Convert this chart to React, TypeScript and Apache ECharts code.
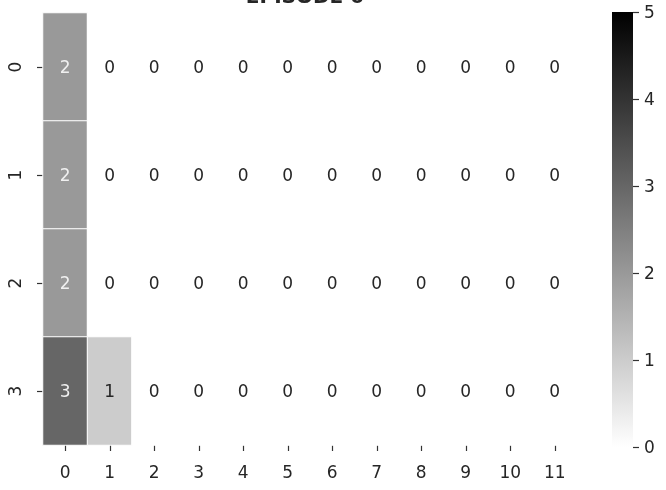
import React, { useEffect, useRef } from "react";
import * as echarts from "echarts";

const xLabels = ["0", "1", "2", "3", "4", "5", "6", "7", "8", "9", "10", "11"];
const yLabels = ["0", "1", "2", "3"];
const row0 = [2, 0, 0, 0, 0, 0, 0, 0, 0, 0, 0, 0];
const row1 = [2, 0, 0, 0, 0, 0, 0, 0, 0, 0, 0, 0];
const row2 = [2, 0, 0, 0, 0, 0, 0, 0, 0, 0, 0, 0];
const row3 = [3, 1, 0, 0, 0, 0, 0, 0, 0, 0, 0, 0];
const rows = [row0, row1, row2, row3];
const vMin = 0;
const vMax = 5;
const titleText = "EPISODE 0";

const FONT = "DejaVu Sans";
const TXT = "#262626";
const FS = 17;

export default function App() {
  const ref = useRef<HTMLDivElement>(null);
  useEffect(() => {
    if (!ref.current) return;
    const chart = echarts.init(ref.current, null, { renderer: "svg" });
    const data: any[] = [];
    rows.forEach((r, yi) => r.forEach((v, xi) => data.push([xi, yi, v])));
    chart.setOption({
      animation: false,
      textStyle: { fontFamily: FONT },
      graphic: [
        {
          type: "text",
          x: 305,
          y: -14,
          z: 100,
          silent: true,
          style: {
            text: titleText,
            align: "center",
            verticalAlign: "top",
            fontFamily: FONT,
            fontSize: 20,
            fontWeight: "bold",
            fill: TXT,
          },
        },
      ],
      grid: [
        { left: 43, right: 89, top: 13, bottom: 45 },
        { left: 612, width: 21, top: 12, bottom: 43 },
      ],
      xAxis: [
        {
          type: "category",
          gridIndex: 0,
          data: xLabels,
          axisLine: { show: false },
          axisTick: { show: true, alignWithLabel: true, length: 6, lineStyle: { color: "#333", width: 1.2 } },
          axisLabel: { fontFamily: FONT, fontSize: FS, color: TXT, margin: 18 },
          splitLine: { show: false },
          splitArea: { show: false },
        },
        {
          type: "category",
          gridIndex: 1,
          data: [""],
          show: false,
        },
      ],
      yAxis: [
        {
          type: "category",
          gridIndex: 0,
          data: yLabels,
          inverse: true,
          axisLine: { show: false },
          axisTick: { show: true, alignWithLabel: true, length: 6, lineStyle: { color: "#333", width: 1.2 } },
          axisLabel: { fontFamily: FONT, fontSize: FS, color: TXT, rotate: 90, margin: 20 },
          splitLine: { show: false },
          splitArea: { show: false },
        },
        {
          type: "value",
          gridIndex: 1,
          min: vMin,
          max: vMax,
          interval: 1,
          position: "right",
          axisLine: { show: false },
          axisTick: { show: true, length: 6, lineStyle: { color: "#333", width: 1.2 } },
          axisLabel: { fontFamily: FONT, fontSize: FS, color: TXT, margin: 11 },
          splitLine: { show: false },
        },
      ],
      visualMap: {
        show: false,
        type: "continuous",
        min: vMin,
        max: vMax,
        dimension: 2,
        seriesIndex: 0,
        inRange: { color: ["#ffffff", "#000000"] },
      },
      series: [
        {
          type: "heatmap",
          xAxisIndex: 0,
          yAxisIndex: 0,
          data,
          label: {
            show: true,
            fontFamily: FONT,
            fontSize: FS,
            formatter: (p: any) => {
              const v = p.value[2];
              const frac = (v - vMin) / (vMax - vMin);
              return frac >= 0.4 ? `{w|${v}}` : `{d|${v}}`;
            },
            rich: {
              w: { color: "#f0f0f0", fontFamily: FONT, fontSize: FS },
              d: { color: TXT, fontFamily: FONT, fontSize: FS },
            },
          },
          itemStyle: { borderColor: "#ffffff", borderWidth: 1 },
          emphasis: { disabled: true },
        },
        {
          type: "bar",
          xAxisIndex: 1,
          yAxisIndex: 1,
          data: [vMax],
          barWidth: "100%",
          silent: true,
          itemStyle: {
            color: new echarts.graphic.LinearGradient(0, 0, 0, 1, [
              { offset: 0, color: "#000000" },
              { offset: 1, color: "#ffffff" },
            ]),
          },
        },
      ],
    });
    return () => chart.dispose();
  }, []);
  return (
    <div
      ref={ref}
      style={{ position: "fixed", top: 0, left: 0, width: 666, height: 490 }}
    />
  );
}
